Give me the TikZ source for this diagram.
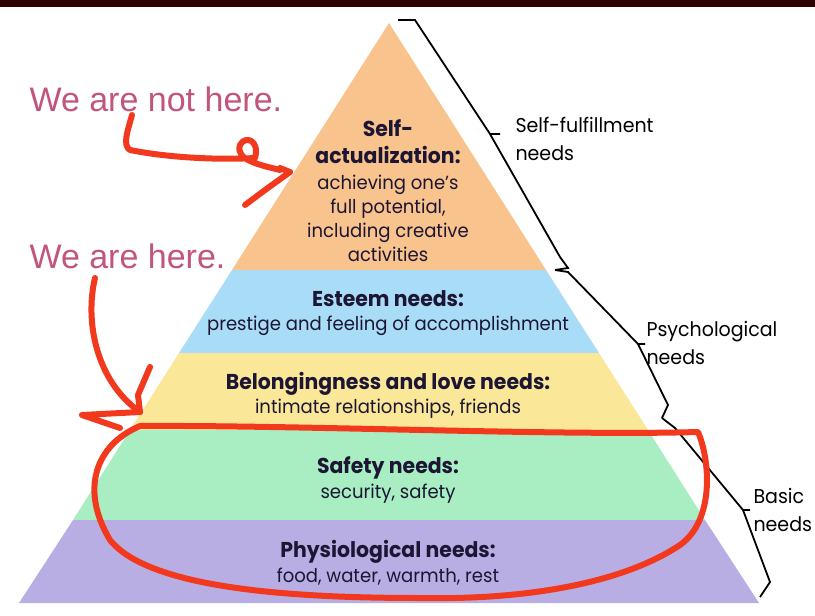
\documentclass[tikz,border=0pt]{standalone}
\usepackage{fontspec}
\setmainfont{Poppins}
\newfontfamily\handfont{Liberation Sans}
\newfontfamily\narrowfont[FakeStretch=0.95]{Poppins}
\definecolor{cpeach}{HTML}{F8C38C}
\definecolor{cblue}{HTML}{A9DCF6}
\definecolor{cyel}{HTML}{FAE898}
\definecolor{cgreen}{HTML}{A8EEC2}
\definecolor{cpurp}{HTML}{B8AEE4}
\definecolor{cink}{HTML}{1C1634}
\definecolor{cpink}{HTML}{C2557D}
\definecolor{cred}{HTML}{F2391E}
\begin{document}
\begin{tikzpicture}[x=1pt,y=-1pt,
  title/.style={font=\narrowfont\fontsize{21.5}{27}\selectfont\bfseries, text=cink, align=center},
  sub/.style={font=\narrowfont\fontsize{19}{24}\selectfont, text=cink, align=center},
  side/.style={font=\narrowfont\fontsize{20}{28}\selectfont, align=left, anchor=west},
  brace/.style={draw=black, line width=1.8pt},
  hand/.style={font=\handfont\fontsize{34}{36}\selectfont, text=cpink, anchor=west},
  redpen/.style={draw=cred, line width=6pt, line cap=round, line join=round}]
\useasboundingbox (0,0) rectangle (815,616);
\fill[white] (0,0) rectangle (815,616);
\fill[black!70!red!60!black] (0,0) rectangle (815,7);
% bands
\fill[cpeach] (389,23) -- (546,270) -- (232,270) -- cycle;
\fill[cblue] (232,270) -- (546,270) -- (599,353) -- (179,353) -- cycle;
\fill[cyel] (179,353) -- (599,353) -- (648,430) -- (130,430) -- cycle;
\fill[cgreen] (130,430) -- (648,430) -- (705,520) -- (73,520) -- cycle;
\fill[cpurp] (73,520) -- (705,520) -- (759,603) -- (19,603) -- cycle;
% texts
\node[title] (t1) at (388,142) {Self-\\actualization:};
\node[sub] (s1) at (388,218) {achieving one’s\\full potential,\\including creative\\activities};
\node[title] (t2) at (388,299) {Esteem needs:};
\node[sub] (s2) at (388,326) {prestige and feeling of accomplishment};
\node[title] (t3) at (388,384) {Belongingness and love needs:};
\node[sub] (s3) at (388,409) {intimate relationships, friends};
\node[title] (t4) at (388,468) {Safety needs:};
\node[sub] (s4) at (388,494) {security, safety};
\node[title] (t5) at (388,552) {Physiological needs:};
\node[sub] (s5) at (388,577) {food, water, warmth, rest};
% braces
\draw[brace] (398,20) -- (415,20) -- (490,134) -- (500,134) (490,134) -- (560,257) -- (568,268) -- (555,270);
\draw[brace] (555,270) -- (568,272) -- (638,344) -- (645,344) (638,344) -- (668,405) -- (662,418);
\draw[brace] (662,418) -- (675,428) -- (743,510) -- (750,510) (743,510) -- (770,582) -- (760,597);
\node[side] (l1) at (512,139) {Self-fulfillment\\needs};
\node[side] (l2) at (643,343) {Psychological\\needs};
\node[side] (l3) at (750,510) {Basic\\needs};
% handwriting
\node[hand] (h1) at (26,99) {We are not here.};
\node[hand] (h2) at (26,256) {We are here.};
\draw[redpen] (132,115) .. controls (128,130) and (122,145) .. (130,150)
  .. controls (170,158) and (220,160) .. (255,158)
  .. controls (260,140) and (245,135) .. (240,145)
  .. controls (235,160) and (260,165) .. (280,170);
\draw[redpen] (290,172) -- (265,190) -- (245,205);
\draw[redpen] (290,172) -- (280,168);
\draw[redpen] (95,278) .. controls (85,320) and (95,380) .. (140,412);
\draw[redpen] (140,412) -- (138,395) -- (150,367);
\draw[redpen] (140,412) -- (82,415) -- (120,428);
\draw[redpen] (140,426) .. controls (300,425) and (560,436) .. (698,432)
  .. controls (710,460) and (715,520) .. (680,545)
  .. controls (620,585) and (520,600) .. (420,598)
  .. controls (300,598) and (150,590) .. (110,540)
  .. controls (80,490) and (95,445) .. (140,426);
\end{tikzpicture}
\end{document}
